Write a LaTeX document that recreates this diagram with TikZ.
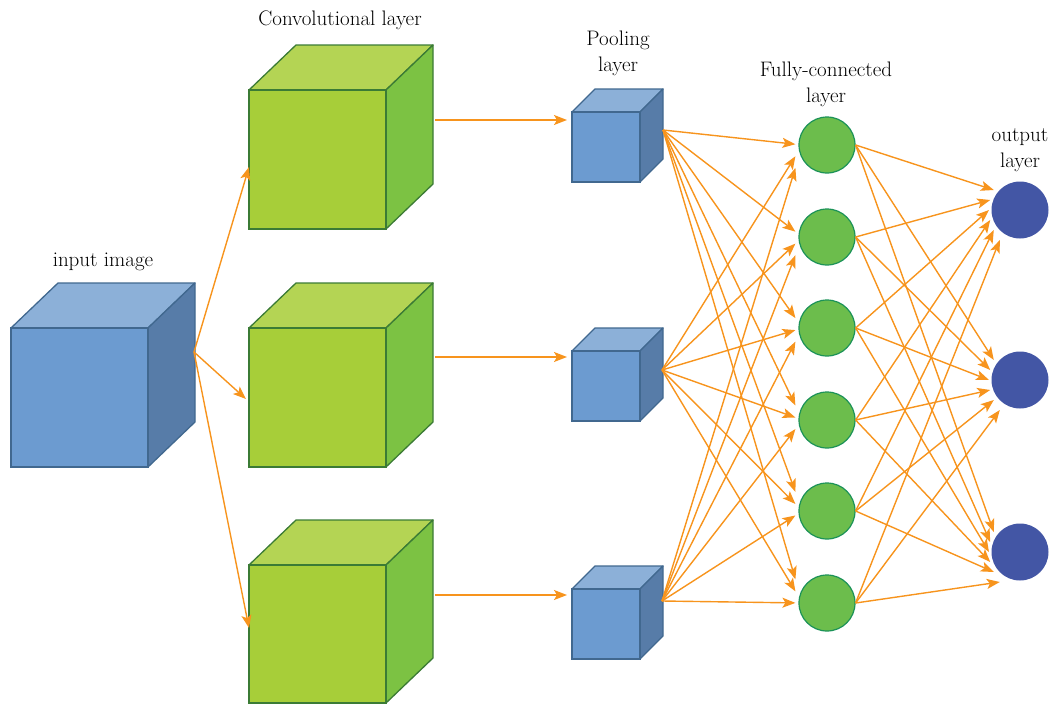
\documentclass[tikz,border=0pt]{standalone}
\usetikzlibrary{arrows.meta,calc}
\definecolor{bfront}{HTML}{6C9BD0}
\definecolor{btop}{HTML}{8CB0D8}
\definecolor{bside}{HTML}{577CA8}
\definecolor{bborder}{HTML}{41688F}
\definecolor{gfront}{HTML}{A7CE39}
\definecolor{gtop}{HTML}{B4D454}
\definecolor{gside}{HTML}{7CC243}
\definecolor{gborder}{HTML}{3B7B35}
\definecolor{fcfill}{HTML}{6CBD4C}
\definecolor{fcborder}{HTML}{1B9258}
\definecolor{outfill}{HTML}{4356A5}
\definecolor{arr}{HTML}{F7941D}
\newcommand\mycube[9]{%
 % #1 name, #2 x, #3 y, #4 w, #5 h, #6 dx, #7 dy, #8 colour prefix, #9 border
 \fill[#8top,draw=#9,line width=1.3pt,line join=round] (#2,#3) -- ++(#6,-#7) -- ++(#4,0) -- ++(-#6,#7) -- cycle;
 \fill[#8side,draw=#9,line width=1.3pt,line join=round] (#2+#4,#3) -- ++(#6,-#7) -- ++(0,#5) -- ++(-#6,#7) -- cycle;
 \node[draw=#9,fill=#8front,line width=1.3pt,minimum width=#4pt,minimum height=#5pt,inner sep=0pt,outer sep=0pt,anchor=north west] (#1) at (#2,#3) {};
}
\tikzset{
 lbl/.style={font=\fontsize{21}{26}\selectfont,align=center,text=black},
 conn/.style={draw=arr,line width=1.4pt,-{Stealth[length=13pt,width=10pt,inset=3pt]}},
 fc/.style={circle,fill=fcfill,draw=fcborder,line width=1.2pt,minimum size=56pt,inner sep=0pt},
 outn/.style={circle,fill=outfill,minimum size=57pt,inner sep=0pt},
}
\begin{document}
\begin{tikzpicture}[x=1pt,y=-1pt]
\useasboundingbox (0,0) rectangle (1053,704);
% cubes
\mycube{inimg}{11}{328}{137}{139}{47}{45}{b}{bborder}
\mycube{conv1}{249}{90}{137}{139}{47}{45}{g}{gborder}
\mycube{conv2}{249}{328}{137}{139}{47}{45}{g}{gborder}
\mycube{conv3}{249}{565}{137}{138}{47}{45}{g}{gborder}
\mycube{pool1}{572}{112}{68}{70}{23}{23}{b}{bborder}
\mycube{pool2}{572}{351}{68}{70}{23}{23}{b}{bborder}
\mycube{pool3}{572}{589}{68}{70}{23}{23}{b}{bborder}
% labels
\node[lbl] (linput) at (103,262) {input image};
\node[lbl] (lconv) at (340,20) {Convolutional layer};
\node[lbl] (lpool) at (618,53) {Pooling\\layer};
\node[lbl] (lfc) at (826,84) {Fully-connected\\layer};
\node[lbl] (lout) at (1020,150) {output\\layer};
% connection points
\coordinate (inout) at (194,352);
\coordinate (c1in) at (249,167);
\coordinate (c2in) at (246,399);
\coordinate (c3in) at (249,628);
\coordinate (c1out) at (435,120);
\coordinate (c2out) at (435,357);
\coordinate (c3out) at (435,595);
\coordinate (p1in) at (567,120);
\coordinate (p2in) at (567,357);
\coordinate (p3in) at (567,595);
\coordinate (p1out) at (663,130);
\coordinate (p2out) at (662,370);
\coordinate (p3out) at (662,601);
% FC and output nodes
\foreach \i/\y in {1/145,2/237,3/328,4/420,5/511,6/603}
  \node[fc] (f\i) at (827,\y) {};
\foreach \i/\y in {1/210,2/380,3/552}
  \node[outn] (o\i) at (1020,\y) {};
% arrow end points at the FC layer
\foreach \p/\sy in {1/130,2/370,3/601}
  \foreach \f/\ty in {1/145,2/237,3/328,4/420,5/511,6/603}{
    \pgfmathsetmacro\off{0.05*(\sy-\ty)}
    \coordinate (f\f in\p) at ($(f\f.west)+(-3,\off)$);
  }
% arrow end points at the output layer
\foreach \o in {1,2,3}
  \foreach \f in {1,...,6}{
    \pgfmathsetmacro\off{-20+10*(\f-1)}
    \pgfmathsetmacro\dx{-31+0.012*\off*\off}
    \coordinate (o\o in\f) at ($(o\o.center)+(\dx,\off)$);
  }
% arrows
\draw[conn] (inout) -- (c1in);
\draw[conn] (inout) -- (c2in);
\draw[conn] (inout) -- (c3in);
\draw[conn] (c1out) -- (p1in);
\draw[conn] (c2out) -- (p2in);
\draw[conn] (c3out) -- (p3in);
\foreach \p in {1,2,3}
  \foreach \f in {1,...,6}
    \draw[conn] (p\p out) -- (f\f in\p);
\foreach \f in {1,...,6}
  \foreach \o in {1,2,3}
    \draw[conn] (f\f.east) -- (o\o in\f);
\end{tikzpicture}
\end{document}
